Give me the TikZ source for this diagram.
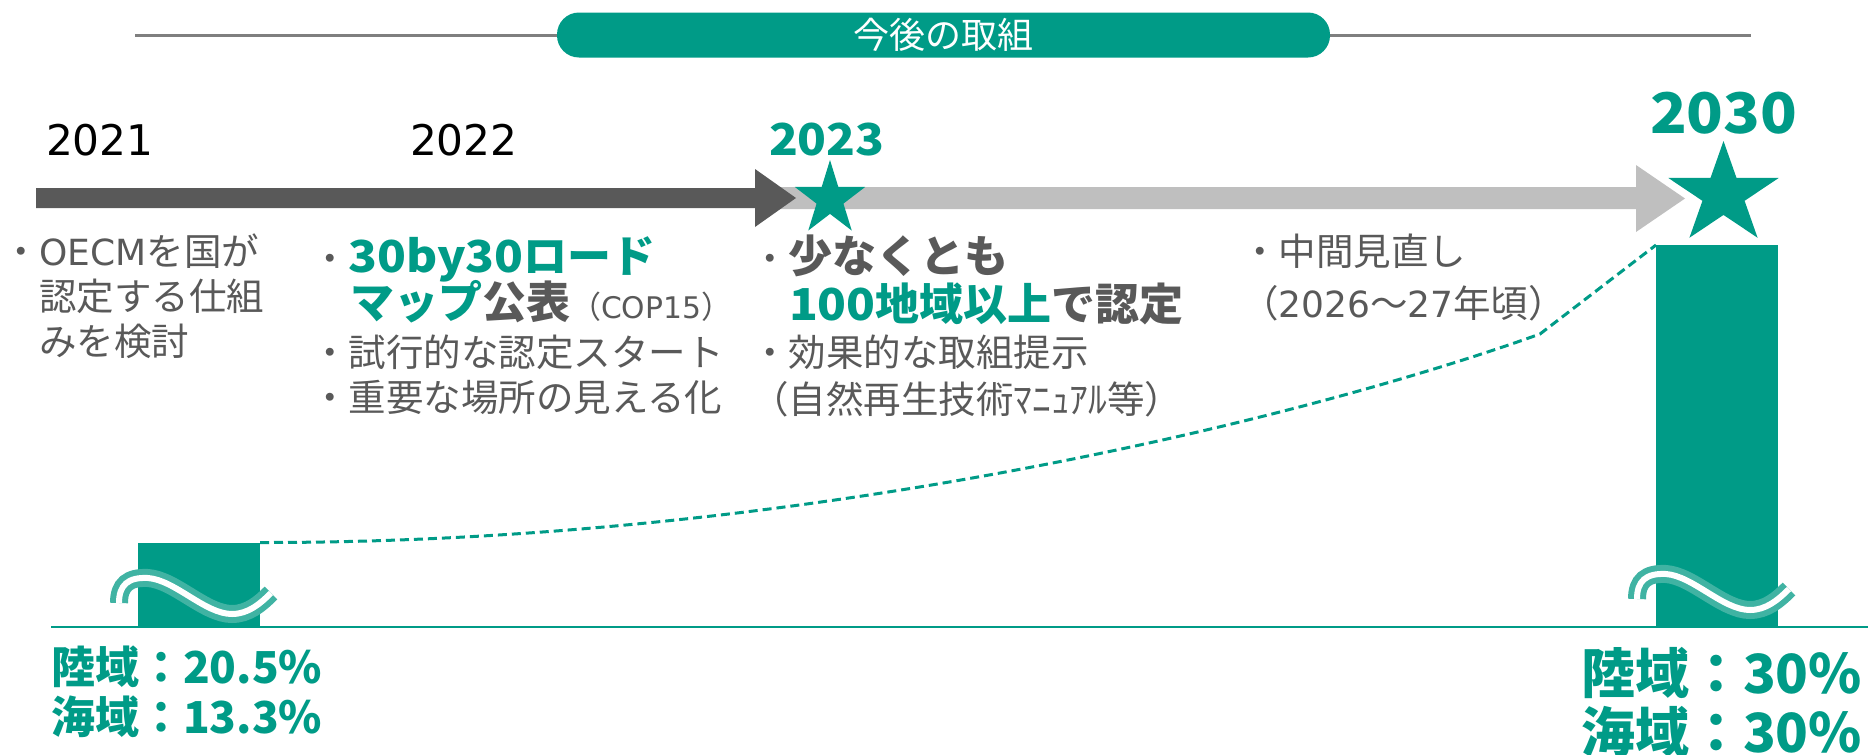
\documentclass[tikz,border=0pt]{standalone}
\usepackage{fontspec}
\setmainfont{Noto Sans CJK JP}
\newfontfamily\latr[Scale=0.96]{DejaVu Sans}
\newfontfamily\latbf[FakeStretch=1.08]{Noto Sans CJK JP}
\newcommand\myLat[1]{{\latr #1}}
\newcommand\myLatB[1]{{\latbf\bfseries #1}}
\definecolor{tealc}{HTML}{009B87}
\definecolor{graytxt}{HTML}{595959}
\definecolor{darkarrow}{HTML}{595959}
\definecolor{lightarrow}{HTML}{BFBFBF}
\definecolor{lineg}{HTML}{7F7F7F}
\definecolor{wavec}{HTML}{40B3A3}
\newcommand\fsz[1]{\fontsize{#1}{#1}\selectfont}
\tikzset{
  txt/.style={anchor=base west, inner sep=0pt, outer sep=0pt, text=graytxt, font=\fsz{37.5}},
  yeartxt/.style={anchor=base west, inner sep=0pt, outer sep=0pt, text=black, font=\fsz{44}\latr},
  byeartxt/.style={anchor=base west, inner sep=0pt, outer sep=0pt, text=tealc, font=\fsz{44}\latbf\bfseries},
  lbl/.style={anchor=base west, inner sep=0pt, outer sep=0pt, text=tealc, font=\fsz{44}\bfseries},
  bigbar/.style={rectangle, fill=tealc, draw=none, inner sep=0pt, outer sep=0pt},
  pill/.style={rectangle, rounded corners=22pt, fill=tealc, draw=none, text=white, inner sep=0pt, minimum width=773pt, minimum height=45pt, font=\fsz{36}},
  pics/tstar/.style={code={
    \fill[tealc] (-90:1) -- (-54:0.382) -- (-18:1) -- (18:0.382) -- (54:1) -- (90:0.382) -- (126:1) -- (162:0.382) -- (198:1) -- (234:0.382) -- cycle;}},
  pics/brk/.style={code={
    \draw[wavec, line width=18pt] (119,603) .. controls (119,585) and (128,577) .. (148,578) .. controls (175,580) and (205,614) .. (232,614) .. controls (248,614) and (260,604) .. (271,593);
    \draw[white, line width=6pt] (119,603) .. controls (119,585) and (128,577) .. (148,578) .. controls (175,580) and (205,614) .. (232,614) .. controls (248,614) and (260,604) .. (271,593);}}
}
\begin{document}
\begin{tikzpicture}[x=1pt,y=-1pt]
\useasboundingbox (0,0) rectangle (1872,755);
% top banner
\coordinate (gl) at (135,35);
\coordinate (gr) at (1751,35);
\draw[lineg, line width=3pt] (gl) -- (gr);
\node[pill] (banner) at (943.5,35) {今後の取組};
% years
\node[yeartxt] (y2021) at (46,155) {2021};
\node[yeartxt] (y2022) at (410,155) {2022};
\node[byeartxt] (y2023) at (769,155) {2023};
\node[byeartxt, font=\fsz{56}\latbf\bfseries] (y2030) at (1650,133) {2030};
% arrows
\fill[lightarrow] (760,187) -- (1636,187) -- (1636,165) -- (1685,198.5) -- (1636,232) -- (1636,209) -- (760,209) -- cycle;
\fill[darkarrow] (36,188) -- (755,188) -- (755,169) -- (796,198) -- (755,227) -- (755,208) -- (36,208) -- cycle;
\pic[xscale=37, yscale=39] at (830,199) {tstar};
\pic[xscale=58, yscale=53.5] at (1723.5,194.5) {tstar};
% column 1
\node[txt] (c1a) at (2,265) {・\myLat{OECM}を国が};
\node[txt] (c1b) at (39,310) {認定する仕組};
\node[txt] (c1c) at (39,355) {みを検討};
% column 2
\node[txt] (c2a) at (311,272) {・{\fsz{44}\bfseries\color{tealc}\myLatB{30by30}ロード}};
\node[txt] (c2b) at (350,318) {{\fsz{44}\bfseries{\color{tealc}マップ}公表}{\fsz{31}（\myLat{COP15}）}};
\node[txt] (c2c) at (311,366) {・試行的な認定スタート};
\node[txt] (c2d) at (311,411) {・重要な場所の見える化};
% column 3
\node[txt] (c3a) at (751,272) {・{\fsz{44}\bfseries 少なくとも}};
\node[txt, font=\fsz{44}\bfseries] (c3b) at (789,320) {{\color{tealc}\myLatB{100}地域以上}で認定};
\node[txt] (c3c) at (751,366) {・効果的な取組提示};
\node[txt] (c3d) at (751,413) {（自然再生技術ﾏﾆｭｱﾙ等）};
% column 4
\node[txt] (c4a) at (1241,265) {・中間見直し};
\node[txt] (c4b) at (1241,317) {（\myLat{2026}～\myLat{27}年頃）};
% bars
\node[bigbar, minimum width=122pt, minimum height=85pt] (barL) at (199,585) {};
\node[bigbar, minimum width=122pt, minimum height=382pt] (barR) at (1717,436) {};
\coordinate (bl) at (51,627);
\coordinate (br) at (1868,627);
\draw[tealc, line width=2pt] (bl) -- (br);
\pic at (0,0) {brk};
\pic at (1518,-4) {brk};
% dashed trend
\draw[tealc, line width=3pt, dash pattern=on 9pt off 5pt] (barL.north east) .. controls (800,543) and (1300,420) .. (1540,334) -- (barR.north west);
% labels
\node[lbl] (l1) at (51,683) {陸域：20.5\%};
\node[lbl] (l2) at (51,733) {海域：13.3\%};
\node[lbl, font=\fsz{54}\bfseries] (r1) at (1581,693) {陸域：30\%};
\node[lbl, font=\fsz{54}\bfseries] (r2) at (1581,752) {海域：30\%};
\end{tikzpicture}
\end{document}
